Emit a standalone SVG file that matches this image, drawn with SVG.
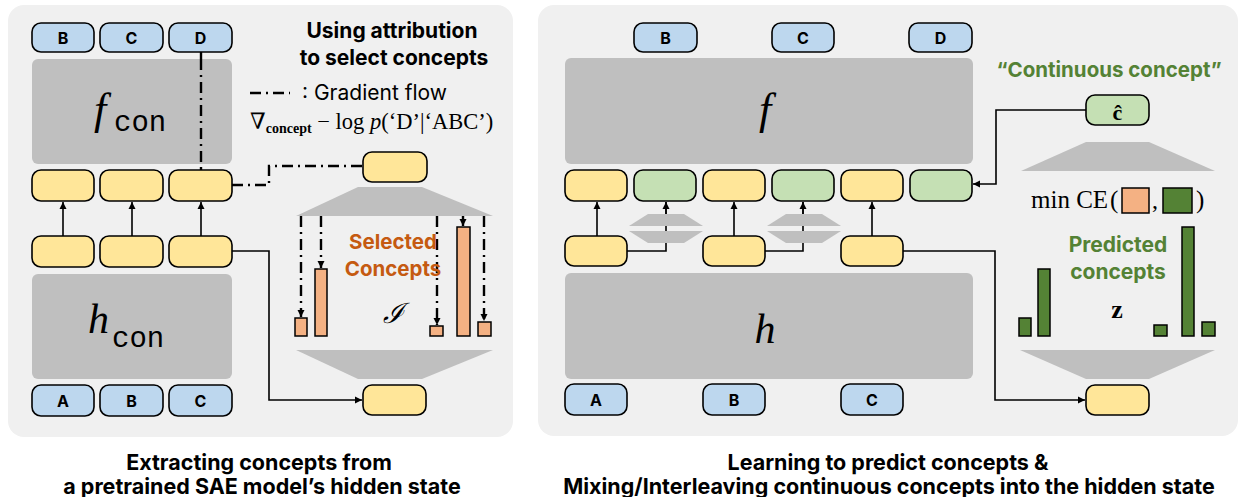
<svg xmlns="http://www.w3.org/2000/svg" width="1239" height="497" viewBox="0 0 1239 497">
<style>
.panel{fill:#f0f0f0}
.blk{fill:#bfbfbf}
.tok{fill:#bdd7ee;stroke:#000;stroke-width:1.6}
.yel{fill:#ffe699;stroke:#000;stroke-width:1.6}
.grn{fill:#c5e0b4;stroke:#000;stroke-width:1.6}
.ob{fill:#f4b183;stroke:#000;stroke-width:1.5}
.gb{fill:#548235;stroke:#000;stroke-width:1.5}
.tl{font-family:Inter,"Liberation Sans",sans-serif;font-weight:700;font-size:16px;text-anchor:middle;fill:#000}
.ln{fill:none;stroke:#000;stroke-width:1.6}
.dd{fill:none;stroke:#000;stroke-width:2.4;stroke-dasharray:11 5 2 5}
.sans{font-family:Inter,"Liberation Sans",sans-serif}
.ser{font-family:"Liberation Serif","DejaVu Serif",serif}
.mono{font-family:"Liberation Mono","DejaVu Sans Mono",monospace}
.cap{font-family:Inter,"Liberation Sans",sans-serif;font-weight:700;font-size:21.5px;text-anchor:middle;fill:#000}
</style>
<defs>
<marker id="ah" markerWidth="8" markerHeight="8" refX="7" refY="4" orient="auto" markerUnits="userSpaceOnUse">
<path d="M0,0.5 L7,4 L0,7.5 Z" fill="#000"/>
</marker>
</defs>

<rect class="panel" x="8" y="5" width="505" height="432" rx="16"/>
<rect class="panel" x="538" y="5" width="700" height="431" rx="16"/>

<g id="connectors">
<path class="dd" d="M201,52 V170"/>
<path class="dd" d="M232,185 H269 V166 H363"/>
<path class="dd" d="M250,93 H290"/>
<path class="dd" d="M301,216 V317" marker-end="url(#ah)"/>
<path class="dd" d="M321,216 V268" marker-end="url(#ah)"/>
<path class="dd" d="M437,216 V325" marker-end="url(#ah)"/>
<path class="dd" d="M463,216 V226" marker-end="url(#ah)"/>
<path class="dd" d="M484,216 V321" marker-end="url(#ah)"/>
<path class="ln" d="M63,236 V202" marker-end="url(#ah)"/>
<path class="ln" d="M132,236 V202" marker-end="url(#ah)"/>
<path class="ln" d="M201,236 V202" marker-end="url(#ah)"/>
<path class="ln" d="M232,251 H269 V400 H362" marker-end="url(#ah)"/>
<path class="ln" d="M597,236 V202" marker-end="url(#ah)"/>
<path class="ln" d="M734,236 V202" marker-end="url(#ah)"/>
<path class="ln" d="M872,236 V202" marker-end="url(#ah)"/>
<path class="ln" d="M627,251 H666 V202" marker-end="url(#ah)"/>
<path class="ln" d="M765,251 H803 V202" marker-end="url(#ah)"/>
<path class="ln" d="M903,251 H995 V400 H1085" marker-end="url(#ah)"/>
<path class="ln" d="M1086,110 H996 V184 H973" marker-end="url(#ah)"/>
</g>

<!-- Left panel -->
<g id="l-tok-top">
<rect class="tok" x="32" y="23" width="62" height="29" rx="9"/><text class="tl" x="63" y="43.5">B</text>
<rect class="tok" x="100" y="23" width="63" height="29" rx="9"/><text class="tl" x="131.5" y="43.5">C</text>
<rect class="tok" x="169" y="23" width="63" height="29" rx="9"/><text class="tl" x="200.5" y="43.5">D</text>
</g>
<g id="l-fcon">
<rect class="blk" x="32" y="59" width="200" height="105" rx="6"/>
<text class="ser" x="94" y="124" font-size="44" font-style="italic">f</text>
<text class="mono" x="114" y="131" font-size="29">con</text>
</g>
<path class="dd" d="M201,59 V164"/>
<g id="l-row1">
<rect class="yel" x="32" y="170" width="62" height="31" rx="9"/>
<rect class="yel" x="100" y="170" width="63" height="31" rx="9"/>
<rect class="yel" x="169" y="170" width="63" height="31" rx="9"/>
</g>
<g id="l-row2">
<rect class="yel" x="32" y="236" width="62" height="31" rx="9"/>
<rect class="yel" x="100" y="236" width="63" height="31" rx="9"/>
<rect class="yel" x="169" y="236" width="63" height="31" rx="9"/>
</g>
<g id="l-hcon">
<rect class="blk" x="32" y="274" width="200" height="105" rx="6"/>
<text class="ser" x="88" y="333" font-size="42" font-style="italic">h</text>
<text class="mono" x="112" y="347" font-size="29">con</text>
</g>
<g id="l-tok-bot">
<rect class="tok" x="32" y="385" width="62" height="31" rx="9"/><text class="tl" x="63" y="406.5">A</text>
<rect class="tok" x="100" y="385" width="63" height="31" rx="9"/><text class="tl" x="131.5" y="406.5">B</text>
<rect class="tok" x="169" y="385" width="63" height="31" rx="9"/><text class="tl" x="200.5" y="406.5">C</text>
</g>
<g id="l-title">
<text class="sans" x="392" y="38" font-size="21" font-weight="700" text-anchor="middle">Using attribution</text>
<text class="sans" x="394" y="65" font-size="21" font-weight="700" text-anchor="middle">to select concepts</text>
</g>
<g id="l-legend">
<text class="sans" x="302" y="100" font-size="21">: Gradient flow</text>
<text class="ser" x="250" y="129" font-size="22.5">∇<tspan font-size="14" font-weight="700" dy="4">concept</tspan><tspan dy="-4"> − log </tspan><tspan font-style="italic">p</tspan>(‘D’|‘ABC’)</text>
</g>
<g id="l-concept-in">
<rect class="yel" x="363" y="152" width="64" height="30" rx="9"/>
</g>
<g id="l-enc">
<polygon class="blk" points="358,187 422,187 493,216 296,216"/>
</g>
<g id="l-bars">
<rect class="ob" x="295" y="318" width="12" height="18"/>
<rect class="ob" x="315" y="269" width="12" height="67"/>
<rect class="ob" x="430" y="326" width="13" height="10"/>
<rect class="ob" x="457" y="227" width="13" height="109"/>
<rect class="ob" x="478" y="322" width="13" height="14"/>
<text class="sans" x="393" y="249" font-size="20.5" font-weight="700" fill="#c55a11" text-anchor="middle">Selected</text>
<text class="sans" x="393" y="276" font-size="20.5" font-weight="700" fill="#c55a11" text-anchor="middle">Concepts</text>
<text x="393" y="323" font-family="'DejaVu Serif','Liberation Serif',serif" font-style="italic" font-size="28" text-anchor="middle">ℐ</text>
</g>
<g id="l-dec">
<polygon class="blk" points="296,350 493,350 422,379 358,379"/>
</g>
<g id="l-concept-out">
<rect class="yel" x="363" y="385" width="63" height="30" rx="9"/>
</g>

<!-- Right panel -->
<g id="r-tok-top">
<rect class="tok" x="634" y="23" width="63" height="29" rx="9"/><text class="tl" x="665.5" y="43.5">B</text>
<rect class="tok" x="772" y="23" width="62" height="29" rx="9"/><text class="tl" x="803" y="43.5">C</text>
<rect class="tok" x="909" y="23" width="63" height="29" rx="9"/><text class="tl" x="940.5" y="43.5">D</text>
</g>
<g id="r-f">
<rect class="blk" x="565" y="58" width="408" height="106" rx="6"/>
<text class="ser" x="765" y="124" font-size="44" font-style="italic" text-anchor="middle">f</text>
</g>
<g id="r-row1">
<rect class="yel" x="565" y="170" width="62" height="31" rx="9"/>
<rect class="grn" x="634" y="170" width="62" height="31" rx="9"/>
<rect class="yel" x="703" y="170" width="62" height="31" rx="9"/>
<rect class="grn" x="772" y="170" width="62" height="31" rx="9"/>
<rect class="yel" x="841" y="170" width="62" height="31" rx="9"/>
<rect class="grn" x="910" y="170" width="62" height="31" rx="9"/>
</g>
<g id="r-mix">
<polygon class="blk" points="648,214 684,214 703,226 629,226"/>
<polygon class="blk" points="629,231 703,231 684,243 648,243"/>
<polygon class="blk" points="786,214 822,214 841,226 767,226"/>
<polygon class="blk" points="767,231 841,231 822,243 786,243"/>
</g>
<path class="ln" d="M666,214 V202"/>
<path class="ln" d="M803,214 V202"/>
<g id="r-row2">
<rect class="yel" x="565" y="236" width="62" height="30" rx="9"/>
<rect class="yel" x="703" y="236" width="62" height="30" rx="9"/>
<rect class="yel" x="841" y="236" width="62" height="30" rx="9"/>
</g>
<g id="r-h">
<rect class="blk" x="565" y="273" width="408" height="106" rx="6"/>
<text class="ser" x="765" y="343" font-size="42" font-style="italic" text-anchor="middle">h</text>
</g>
<g id="r-tok-bot">
<rect class="tok" x="565" y="384" width="62" height="31" rx="9"/><text class="tl" x="596" y="405.5">A</text>
<rect class="tok" x="703" y="384" width="62" height="31" rx="9"/><text class="tl" x="734" y="405.5">B</text>
<rect class="tok" x="841" y="384" width="62" height="31" rx="9"/><text class="tl" x="872" y="405.5">C</text>
</g>
<g id="r-cont">
<text class="sans" x="1109" y="77" font-size="20.5" font-weight="700" fill="#548235" text-anchor="middle">“Continuous concept”</text>
<rect class="grn" x="1086" y="95" width="63" height="30" rx="9"/>
<text class="ser" x="1117.5" y="120" font-size="22" font-weight="700" text-anchor="middle">ĉ</text>
</g>
<g id="r-dec">
<polygon class="blk" points="1086,142 1149,142 1215,171 1021,171"/>
</g>
<g id="r-loss">
<text class="ser" x="1031" y="208" font-size="25">min CE</text>
<text class="ser" x="1110" y="208" font-size="25">(</text>
<rect class="ob" x="1122" y="188" width="27" height="25"/>
<text class="ser" x="1152" y="208" font-size="24">,</text>
<rect class="gb" x="1163" y="188" width="29" height="25"/>
<text class="ser" x="1196" y="208" font-size="25">)</text>
</g>
<g id="r-bars">
<rect class="gb" x="1019" y="318" width="12" height="18"/>
<rect class="gb" x="1038" y="269" width="12" height="67"/>
<rect class="gb" x="1154" y="325" width="13" height="11"/>
<rect class="gb" x="1182" y="227" width="12" height="109"/>
<rect class="gb" x="1202" y="322" width="13" height="14"/>
<text class="sans" x="1118" y="252" font-size="21" font-weight="700" fill="#548235" text-anchor="middle">Predicted</text>
<text class="sans" x="1118" y="279" font-size="21" font-weight="700" fill="#548235" text-anchor="middle">concepts</text>
<text class="ser" x="1117" y="318" font-size="26" font-weight="700" text-anchor="middle">z</text>
</g>
<g id="r-enc">
<polygon class="blk" points="1020,350 1215,350 1149,379 1086,379"/>
</g>
<g id="r-out">
<rect class="yel" x="1086" y="385" width="63" height="30" rx="9"/>
</g>

<g id="captions">
<text class="cap" x="259" y="470">Extracting concepts from</text>
<text class="cap" x="262" y="494">a pretrained SAE model’s hidden state</text>
<text class="cap" x="888" y="470">Learning to predict concepts &amp;</text>
<text class="cap" x="889" y="494">Mixing/Interleaving continuous concepts into the hidden state</text>
</g>
</svg>
